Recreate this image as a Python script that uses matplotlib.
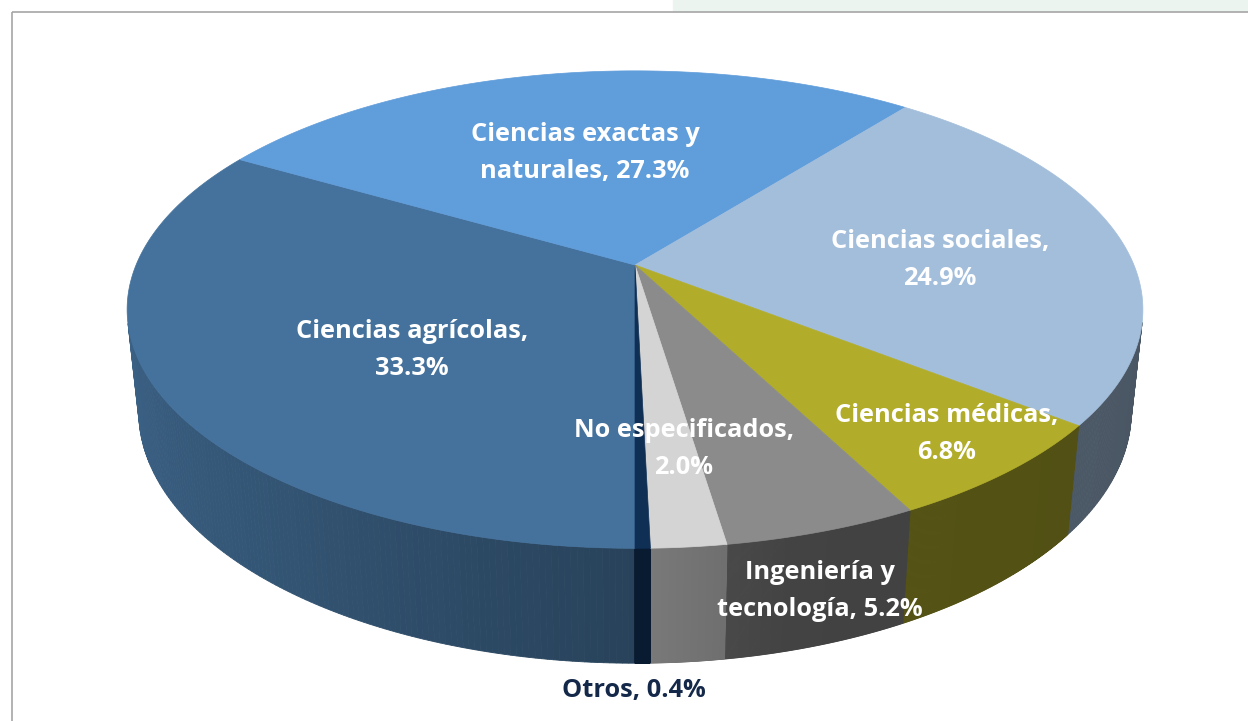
import numpy as np
import matplotlib.pyplot as plt
from matplotlib.patches import Polygon, Rectangle

# data
labels = ["Ciencias agrícolas,\n33.3%",
          "Ciencias exactas y\nnaturales, 27.3%",
          "Ciencias sociales,\n24.9%",
          "Ciencias médicas,\n6.8%",
          "Ingeniería y\ntecnología, 5.2%",
          "No especificados,\n2.0%",
          "Otros, 0.4%"]
values = [33.3, 27.3, 24.9, 6.8, 5.2, 2.0, 0.4]
colors = ["#45729c", "#609ddb", "#a3bedb", "#b1ad2b", "#8b8b8b", "#d4d4d4", "#0f2f55"]

# label placement (pixels) and colour
label_xy = [(412, 350), (585, 153), (940, 260), (947, 434), (820, 591), (684, 449), (634, 690)]
label_col = ["white"] * 6 + ["#14284a"]

# perspective view of the 3d pie
cx, cy = 635, 265
phi = np.radians(27.5)
D = 4.75
f = 2370
H = 0.2314

def project(t, r=1.0, h=0.0):
    u = r * np.cos(t)
    v = r * np.sin(t)
    yc = v * np.sin(phi) + h * np.cos(phi)
    zc = D + v * np.cos(phi) - h * np.sin(phi)
    return cx + f * u / zc, cy - f * yc / zc

def shade(t):
    td = np.degrees(t) % 360
    return np.interp(td, [190, 230, 270, 285, 350], [0.86, 0.75, 0.58, 0.48, 0.45])

fig = plt.figure(figsize=(12.48, 7.21), dpi=100)
ax = fig.add_axes([0, 0, 1, 1])
ax.set_xlim(0, 1248)
ax.set_ylim(721, 0)
ax.axis('off')

# slide decorations
ax.add_patch(Rectangle((673, 0), 600, 11, color="#ebf4ef", zorder=0))
ax.add_patch(Rectangle((12, 12), 1300, 800, fill=False, edgecolor="#a6a6a6", lw=1.2, zorder=0))

frac = np.array(values) / sum(values)
start = np.radians(-90)
edges = start - 2 * np.pi * np.concatenate([[0], np.cumsum(frac)])
vis = -1 / (D * np.cos(phi))

# side walls
for i in range(len(values)):
    ts = np.linspace(edges[i], edges[i + 1], 200)
    base = np.array(plt.matplotlib.colors.to_rgb(colors[i]))
    for a, b in zip(ts[:-1], ts[1:]):
        m = 0.5 * (a + b)
        if np.sin(m) >= vis:
            continue
        x1, y1 = project(a)
        x2, y2 = project(b)
        x3, y3 = project(b, h=-H)
        x4, y4 = project(a, h=-H)
        c = base * shade(m)
        ax.add_patch(Polygon([(x1, y1), (x2, y2), (x3, y3), (x4, y4)],
                             facecolor=c, edgecolor=c, lw=0.6, zorder=1))

# top face
for i in range(len(values)):
    ts = np.linspace(edges[i], edges[i + 1], 300)
    xs, ys = project(ts)
    pts = [(cx, cy)] + list(zip(xs, ys))
    ax.add_patch(Polygon(pts, facecolor=colors[i], edgecolor=colors[i], lw=0.5, zorder=2))

for lab, (x, y), col in zip(labels, label_xy, label_col):
    ax.text(x, y, lab, ha='center', va='center', color=col, fontsize=18.3,
            fontweight='bold', family='Open Sans', linespacing=1.6, zorder=3)

fig.savefig("out.png", dpi=100)
